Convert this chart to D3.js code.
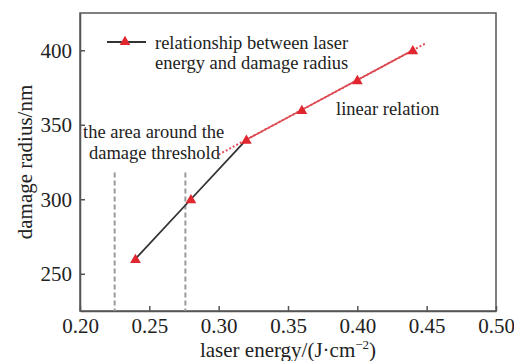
<!DOCTYPE html>
<html><head><meta charset="utf-8">
<script src="https://cdn.jsdelivr.net/npm/d3@7"></script>
<style>body{margin:0;background:#fff}</style>
</head><body><svg id="c" width="514" height="361"></svg>
<script>
const energy = [0.24, 0.28, 0.32, 0.36, 0.40, 0.44];
const radius = [260, 300, 340, 360, 380, 400];
const fitX = [0.30, 0.45];
const fitY = [330, 405];
const thresholdX = [0.225, 0.276];
const thresholdTop = 318;
const xTicks = [0.20, 0.25, 0.30, 0.35, 0.40, 0.45, 0.50];
const yTicks = [250, 300, 350, 400];

const FONT = '"Liberation Serif"';
const svg = d3.select("#c");
const L = 80, R = 496, T = 13, B = 311;
const x = d3.scaleLinear().domain([0.20, 0.50]).range([L, R]);
const y = d3.scaleLinear().domain([225, 425]).range([B, T]);
const axisCol = "#555";

function txt(xp, yp, s, size) {
  return svg.append("text").attr("x", xp).attr("y", yp)
    .style("font-family", FONT).style("font-size", size + "px").attr("fill", "#222").text(s);
}

// frame
svg.append("rect").attr("x", L).attr("y", T).attr("width", R - L).attr("height", B - T)
  .attr("fill", "none").attr("stroke", axisCol).attr("stroke-width", 1.5);

// axes
const xa = svg.append("g").attr("transform", `translate(0,${B})`)
  .call(d3.axisBottom(x).tickValues(xTicks).tickFormat(d3.format(".2f")).tickSizeInner(-5).tickSizeOuter(0));
const ya = svg.append("g").attr("transform", `translate(${L},0)`)
  .call(d3.axisLeft(y).tickValues(yTicks).tickSizeInner(-5).tickSizeOuter(0).tickPadding(8));
[xa, ya].forEach(g => {
  g.attr("font-family", null);
  g.select(".domain").attr("stroke", axisCol).attr("stroke-width", 1.5);
  g.selectAll(".tick line").attr("stroke", axisCol).attr("stroke-width", 1.5);
  g.selectAll("text").style("font-family", FONT).style("font-size", "21px").attr("fill", "#222");
});
xa.selectAll("text").attr("dy", null).attr("y", 22);
ya.selectAll("text").attr("x", -8).attr("dy", "0.34em");

// threshold dashed lines
thresholdX.forEach(v => {
  svg.append("line").attr("x1", x(v)).attr("x2", x(v)).attr("y1", y(thresholdTop)).attr("y2", B)
    .attr("stroke", "#9a9a9a").attr("stroke-width", 2).attr("stroke-dasharray", "5,3");
});

// black segment
const line = d3.line().x(d => x(d[0])).y(d => y(d[1]));
const pts = energy.map((e, i) => [e, radius[i]]);
svg.append("path").attr("d", line(pts.slice(0, 3))).attr("fill", "none").attr("stroke", "#333").attr("stroke-width", 1.8);
// red segment
svg.append("path").attr("d", line(pts.slice(2))).attr("fill", "none").attr("stroke", "#d9444a").attr("stroke-width", 1.6);
// dotted fit
svg.append("path").attr("d", line([[fitX[0], fitY[0]], [fitX[1], fitY[1]]])).attr("fill", "none")
  .attr("stroke", "#e0505a").attr("stroke-width", 2).attr("stroke-dasharray", "2,2");

// markers
const tri = d3.symbol().type(d3.symbolTriangle).size(50);
svg.selectAll(".m").data(pts).join("path").attr("class", "m")
  .attr("transform", d => `translate(${x(d[0])},${y(d[1]) + 1})`).attr("d", tri).attr("fill", "#e0262e");

// legend
svg.append("line").attr("x1", 107).attr("x2", 146).attr("y1", 42).attr("y2", 42).attr("stroke", "#333").attr("stroke-width", 2);
svg.append("path").attr("transform", "translate(125,42)").attr("d", tri).attr("fill", "#e0262e");
txt(155, 49, "relationship between laser", 18.5);
txt(155, 69, "energy and damage radius", 18.5);

// annotations
txt(83, 138, "the area around the", 18.5);
txt(89, 159, "damage threshold", 18.5);
txt(336, 115, "linear relation", 18.5);

// axis titles
const xt = txt(288, 357, "", 21).attr("text-anchor", "middle");
xt.append("tspan").text("laser energy/(J\u00B7cm");
xt.append("tspan").attr("dy", -8).style("font-size", "13px").text("\u22122");
xt.append("tspan").attr("dy", 8).text(")");
txt(0, 0, "damage radius/nm", 21).attr("transform", "translate(32,162) rotate(-90)").attr("text-anchor", "middle");
</script></body></html>
